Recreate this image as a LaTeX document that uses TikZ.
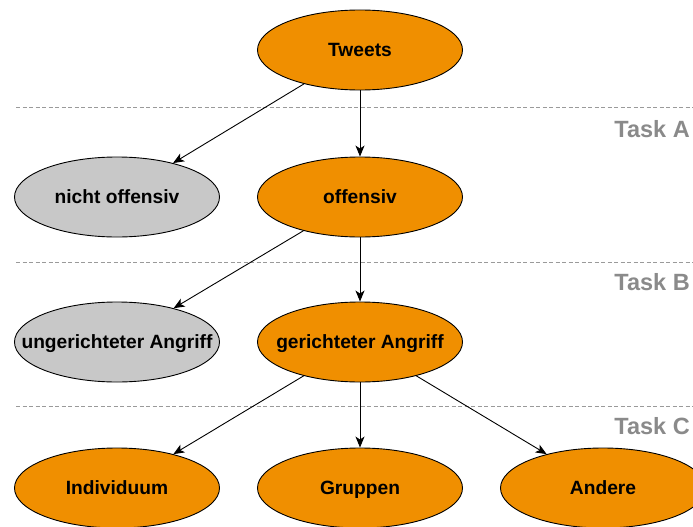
\documentclass[tikz,border=0pt]{standalone}
\usepackage{fontspec}
\setmainfont{Liberation Sans}
\usetikzlibrary{shapes.geometric,arrows.meta}
\definecolor{nodeorange}{HTML}{F08F00}
\definecolor{nodegray}{HTML}{C8C8C8}
\definecolor{taskgray}{HTML}{8A8A8A}
\definecolor{sepgray}{HTML}{9A9A9A}
% zero-width label so the ellipse size is set by its minimum size only
\newcommand{\cls}[1]{\makebox[0pt]{#1}}
\tikzset{
  class/.style={ellipse, draw=black, line width=0.9pt, minimum width=205pt, minimum height=80pt,
    inner sep=0pt, text height=13.8pt, text depth=0pt,
    font=\fontsize{19.2}{22}\selectfont\bfseries},
  keep/.style={class, fill=nodeorange},
  drop/.style={class, fill=nodegray},
  link/.style={draw=black, line width=0.9pt, -{Stealth[length=11pt,width=9pt,inset=3pt]}},
  sepline/.style={draw=sepgray, line width=1pt, dash pattern=on 4pt off 2.5pt},
  tasklabel/.style={anchor=east, text=taskgray, inner sep=0pt, font=\fontsize{23.5}{26}\selectfont\bfseries}
}
\begin{document}
\begin{tikzpicture}[x=1pt,y=-1pt]
  \useasboundingbox (0,0) rectangle (693,527);

  % task separators
  \coordinate (sa0) at (16,107);  \coordinate (sa1) at (693,107);
  \coordinate (sb0) at (16,262);  \coordinate (sb1) at (693,262);
  \coordinate (sc0) at (16,406);  \coordinate (sc1) at (693,406);
  \draw[sepline] (sa0) -- (sa1);
  \draw[sepline] (sb0) -- (sb1);
  \draw[sepline] (sc0) -- (sc1);
  \node[tasklabel] (ta) at (690,129) {Task A};
  \node[tasklabel] (tb) at (690,282) {Task B};
  \node[tasklabel] (tc) at (690,426) {Task C};

  % class hierarchy
  \node[keep] (tweets) at (360,50)  {\cls{Tweets}};
  \node[drop] (nonoff) at (117,197) {\cls{nicht offensiv}};
  \node[keep] (off)    at (360,197) {\cls{offensiv}};
  \node[drop] (untarg) at (117,342) {\cls{ungerichteter Angriff}};
  \node[keep] (targ)   at (360,342) {\cls{gerichteter Angriff}};
  \node[keep] (ind)    at (117,488) {\cls{Individuum}};
  \node[keep] (grp)    at (360,488) {\cls{Gruppen}};
  \node[keep] (oth)    at (603,488) {\cls{Andere}};

  \draw[link] (tweets) -- (nonoff);
  \draw[link] (tweets) -- (off);
  \draw[link] (off) -- (untarg);
  \draw[link] (off) -- (targ);
  \draw[link] (targ) -- (ind);
  \draw[link] (targ) -- (grp);
  \draw[link] (targ) -- (oth);
\end{tikzpicture}
\end{document}
